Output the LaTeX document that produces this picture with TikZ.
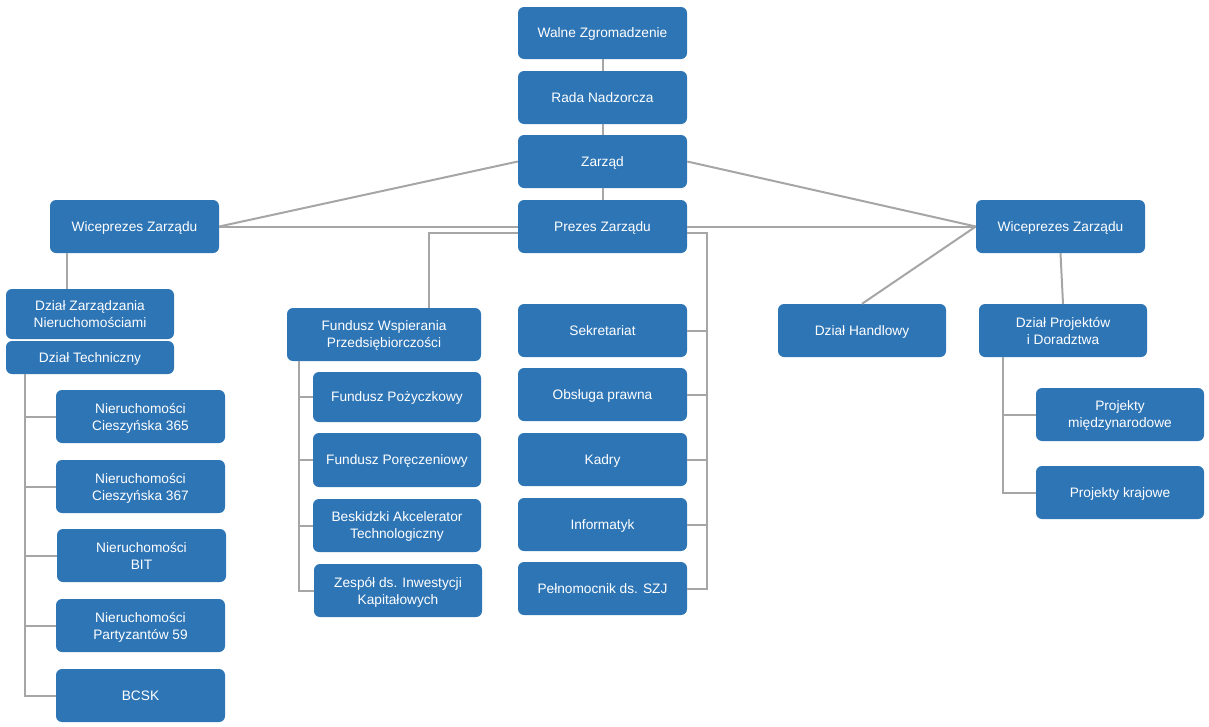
\documentclass[tikz,border=0pt]{standalone}
\usepackage{fontspec}
\setmainfont{Liberation Sans}
\usetikzlibrary{calc}
\definecolor{boxblue}{HTML}{2E75B6}
\definecolor{linegray}{HTML}{A6A6A6}
\tikzset{
  box/.style={rectangle, rounded corners=6pt, fill=boxblue, text=white, align=center,
    inner sep=0pt, minimum width=169pt, minimum height=53pt, text depth=0pt,
    font=\fontsize{13.7}{17}\selectfont},
  conn/.style={draw=linegray, line width=2pt},
}
\begin{document}
\begin{tikzpicture}[x=1pt,y=-1pt]
\useasboundingbox (0,0) rectangle (1209,726);
% top chain
\node[box, minimum height=52pt] (wz) at (602.5,33) {Walne Zgromadzenie};
\node[box] (rn) at (602.5,97.5) {Rada Nadzorcza};
\node[box] (za) at (602.5,161.5) {Zarząd};
\node[box] (pz) at (602.5,226.5) {Prezes Zarządu};
\node[box] (wl) at (134.5,226.5) {Wiceprezes Zarządu};
\node[box] (wr) at (1060.5,226.5) {Wiceprezes Zarządu};
% left branch
\node[box, minimum width=168pt, minimum height=50pt] (dzn) at (90,314) {Dział Zarządzania\\Nieruchomościami};
\node[box, minimum width=168pt, minimum height=33pt] (dt) at (90,357.5) {Dział Techniczny};
\node[box] (n365) at (140.5,416.5) {Nieruchomości\\Cieszyńska 365};
\node[box] (n367) at (140.5,486.5) {Nieruchomości\\Cieszyńska 367};
\node[box] (nbit) at (141.5,555.5) {Nieruchomości\\BIT};
\node[box] (npar) at (140.5,625.5) {Nieruchomości\\Partyzantów 59};
\node[box] (bcsk) at (140.5,695.5) {BCSK};
% FWP branch
\node[box, minimum width=194pt] (fwp) at (384,334.5) {Fundusz Wspierania\\Przedsiębiorczości};
\node[box, minimum width=168pt, minimum height=50pt] (fpz) at (397,397) {Fundusz Pożyczkowy};
\node[box, minimum width=168pt, minimum height=54pt] (fpr) at (397,460) {Fundusz Poręczeniowy};
\node[box, minimum width=168pt] (bat) at (397,525.5) {Beskidzki Akcelerator\\Technologiczny};
\node[box, minimum width=168pt] (zes) at (398,590.5) {Zespół ds. Inwestycji\\Kapitałowych};
% middle column
\node[box] (sek) at (602.5,330.5) {Sekretariat};
\node[box] (obs) at (602.5,394.5) {Obsługa prawna};
\node[box] (kad) at (602.5,459.5) {Kadry};
\node[box] (inf) at (602.5,524.5) {Informatyk};
\node[box] (pel) at (602.5,588.5) {Pełnomocnik ds. SZJ};
% right branch
\node[box, minimum width=168pt] (dh) at (862,330.5) {Dział Handlowy};
\node[box, minimum width=168pt] (dp) at (1063,330.5) {Dział Projektów\\i Doradztwa};
\node[box, minimum width=168pt] (pm) at (1120,414.5) {Projekty\\międzynarodowe};
\node[box, minimum width=168pt] (pk) at (1120,492.5) {Projekty krajowe};
% trunk coordinates
\coordinate (tl) at (25,0);
\coordinate (tw) at (67,0);
\coordinate (tf) at (429,0);
\coordinate (tfs) at (299,0);
\coordinate (tm) at (707,0);
\coordinate (tp) at (1003,0);
% connectors
\draw[conn] (wz.south) -- (rn.north);
\draw[conn] (rn.south) -- (za.north);
\draw[conn] (za.south) -- (pz.north);
\draw[conn] (za.west) -- (wl.east);
\draw[conn] (za.east) -- (wr.west);
\draw[conn] (wl.east) -- (pz.west);
\draw[conn] (pz.east) -- (wr.west);
\draw[conn] (wl.south -| tw) -- (dzn.north -| tw);
\draw[conn] (dt.south -| tl) -- (bcsk.west -| tl) -- (bcsk.west);
\foreach \n in {n365,n367,nbit,npar} \draw[conn] (\n.west -| tl) -- (\n.west);
\draw[conn] ($(pz.west)+(0,6.5)$) -| (fwp.north -| tf);
\draw[conn] (fwp.south -| tfs) -- (zes.west -| tfs) -- (zes.west);
\foreach \n in {fpz,fpr,bat} \draw[conn] (\n.west -| tfs) -- (\n.west);
\draw[conn] ($(pz.east)+(0,6.5)$) -| (pel.east -| tm) -- (pel.east);
\foreach \n in {sek,obs,kad,inf} \draw[conn] (\n.east -| tm) -- (\n.east);
\draw[conn] (dh.north) -- (wr.west);
\draw[conn] (wr.south) -- (dp.north);
\draw[conn] (dp.south -| tp) -- (pk.west -| tp) -- (pk.west);
\draw[conn] (pm.west -| tp) -- (pm.west);
\end{tikzpicture}
\end{document}
